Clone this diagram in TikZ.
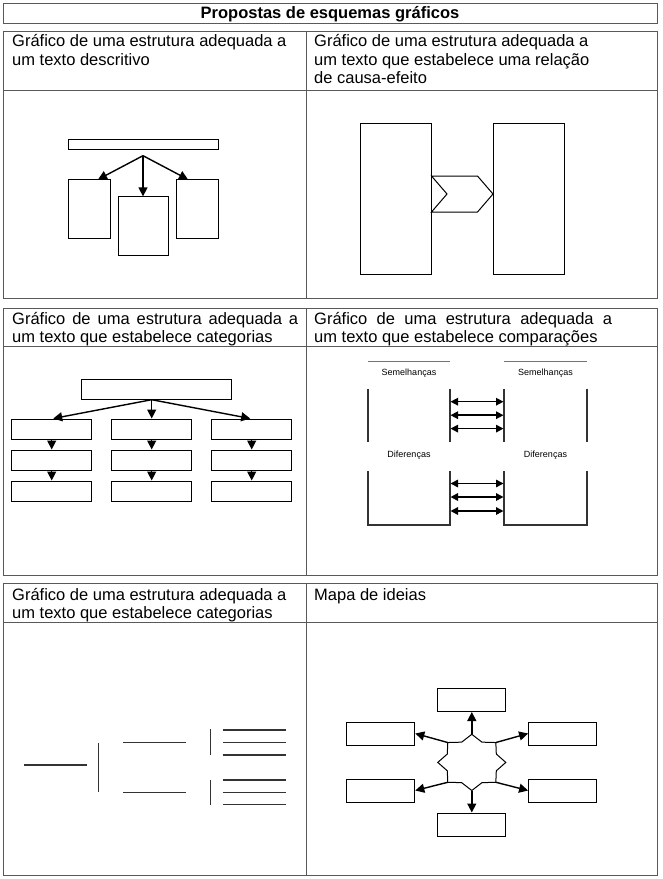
\documentclass[tikz,border=0pt]{standalone}
\usepackage{fontspec}
\setmainfont{Liberation Sans}
\usepackage{tikz}
\usetikzlibrary{arrows.meta, positioning, calc}
\tikzset{%
	tabline/.style={draw=black!65, line width=1pt},
	blk/.style={draw, rectangle, line width=1pt, inner sep=0mm},
	cat/.style={blk, minimum width=80, minimum height=20},
	idea/.style={blk, minimum width=68, minimum height=23},
	gline/.style={draw=black!80, line width=1.3pt},
	sel/.style={-{Triangle[length=9pt,width=9pt]}, line width=1.4pt},
	dbl/.style={{Triangle[length=7.5pt,width=7.5pt]}-{Triangle[length=7.5pt,width=7.5pt]}, line width=1.5pt},
	hdr/.style={anchor=base west, inner sep=0mm, align=left, font=\fontsize{16.5}{18.4}\selectfont},
	lbl/.style={inner sep=0mm, font=\fontsize{9}{10}\selectfont}
}
\begin{document}
\begin{tikzpicture}[x=1pt, y=-1pt]
	\useasboundingbox (0,0) rectangle (663,879);
	\draw[tabline] (3,3) rectangle (657,23);
	\draw[tabline] (3,31) rectangle (657,298) (3,90) -- (657,90) (306,31) -- (306,298);
	\draw[tabline] (3,308) rectangle (657,575) (3,346) -- (657,346) (306,308) -- (306,575);
	\draw[tabline] (3,583) rectangle (657,875) (3,622) -- (657,622) (306,583) -- (306,875);

	\node[hdr, anchor=base, font=\bfseries\fontsize{16.5}{18}\selectfont] (title) at (330,18.7) {Propostas de esquemas gráficos};
	\node[hdr] (h1a) at (12,65.1) {Gráfico de uma estrutura adequada a\\um texto descritivo};
	\node[hdr] (h1b) at (314,83.5) {Gráfico de uma estrutura adequada a\\um texto que estabelece uma relação\\de causa-efeito};
	\node[hdr] (h2a) at (12,342.5) {\makebox[286pt][s]{Gráfico de uma estrutura adequada a}\\um texto que estabelece categorias};
	\node[hdr] (h2b) at (314,342.5) {\makebox[298pt][s]{Gráfico de uma estrutura adequada a}\\um texto que estabelece comparações};
	\node[hdr] (h3a) at (12,618.4) {Gráfico de uma estrutura adequada a\\um texto que estabelece categorias};
	\node[hdr] (h3b) at (314,600) {Mapa de ideias};

	\node[blk, minimum width=150, minimum height=10] (bar) at (143,144) {};
	\node[blk, minimum width=42, minimum height=58.7] (lbox) at (89,209.3) {};
	\node[blk, minimum width=50, minimum height=58.3] (mbox) at (143,226) {};
	\node[blk, minimum width=42, minimum height=58.7] (rbox) at (197,209.3) {};
	\coordinate (fork) at (143,155.7);
	\draw[sel] (fork) -- ([xshift=9pt]lbox.north);
	\draw[sel] (fork) -- (mbox.north);
	\draw[sel] (fork) -- ([xshift=-9pt]rbox.north);

	\node[blk, minimum width=71, minimum height=151] (cause) at (395.5,198.5) {};
	\node[blk, minimum width=71, minimum height=151] (effect) at (529,198.5) {};
	\draw[blk] (cause.east |- 0,176) -- (477.5,176) -- (effect.west |- 0,194) -- (477.5,212)
		-- (cause.east |- 0,212) -- (447,194) -- cycle;

	\node[blk, minimum width=150, minimum height=20] (top) at (156.5,389.2) {};
	\foreach \c/\x in {l/51.7, m/151.7, r/251.7} {
		\node[cat] (\c1) at (\x,429) {};
		\node[cat, below=10pt of \c1] (\c2) {};
		\node[cat, below=10pt of \c2] (\c3) {};
		\draw[sel] (\c1) -- (\c2);
		\draw[sel] (\c2) -- (\c3);
	}
	\coordinate (split) at (top.south -| m1.north);
	\draw[sel] (split) -- ([xshift=1.5pt]l1.north);
	\draw[sel] (split) -- (m1.north);
	\draw[sel] (split) -- ([xshift=-1.5pt]r1.north);

	\node[lbl] (semA) at (409,373) {Semelhanças};
	\node[lbl] (semB) at (545.5,373) {Semelhanças};
	\node[lbl] (difA) at (409,455) {Diferenças};
	\node[lbl] (difB) at (545.5,455) {Diferenças};
	\draw[gline, draw=black!55, line width=0.8pt] (368,361) -- (450,361) (504,361) -- (587,361);
	\draw[gline] (368,388.5) -- (368,442) (450,388.5) -- (450,442) (504,388.5) -- (504,442) (587,388.5) -- (587,442);
	\draw[gline] (368,471) -- (368,525) -- (450,525) -- (450,471) (504,471) -- (504,525) -- (587,525) -- (587,471);
	\foreach \y [count=\i] in {401.7,415.2,428.6,483.5,497,511} {
		\coordinate (cl\i) at (450.5,\y);
		\coordinate (cr\i) at (503.5,\y);
		\draw[dbl] (cl\i) -- (cr\i);
	}

	\draw[gline] (24,765) -- (86.7,765);
	\draw[gline] (98.7,742.7) -- (98.7,792.3);
	\foreach \y in {742.7,792.3} \draw[gline] (123.3,\y) -- (186,\y);
	\draw[gline] (210.7,729.3) -- (210.7,755.3) (210.7,780) -- (210.7,805);
	\foreach \y in {730,742.7,755,780,792.3,804.3} \draw[gline] (222.7,\y) -- (285.7,\y);

	\coordinate (hub) at (471.8,762.4);
	\foreach \i in {0,...,7} {
		\coordinate (sp\i) at ($(hub)+({34*cos(45*\i)},{-28.1*sin(45*\i)})$);
		\coordinate (si\i) at ($(hub)+({0.78*34*cos(45*\i+22.5)},{-0.78*28.1*sin(45*\i+22.5)})$);
	}
	\draw[blk] (sp0) -- (si0) -- (sp1) -- (si1) -- (sp2) -- (si2) -- (sp3) -- (si3) -- (sp4)
		-- (si4) -- (sp5) -- (si5) -- (sp6) -- (si6) -- (sp7) -- (si7) -- cycle;
	\node[idea] (itop) at (471.8,700) {};
	\node[idea] (ibot) at (471.8,824.5) {};
	\node[idea] (ilu) at (380.8,733.5) {};
	\node[idea] (ill) at (380.8,790.5) {};
	\node[idea] (iru) at (562.6,733.5) {};
	\node[idea] (irl) at (562.6,790.5) {};
	\draw[sel] (sp2) -- (itop.south);
	\draw[sel] (sp6) -- (ibot.north);
	\draw[sel] (sp3) -- (ilu.east);
	\draw[sel] (sp5) -- (ill.east);
	\draw[sel] (sp1) -- (iru.west);
	\draw[sel] (sp7) -- (irl.west);
\end{tikzpicture}
\end{document}
